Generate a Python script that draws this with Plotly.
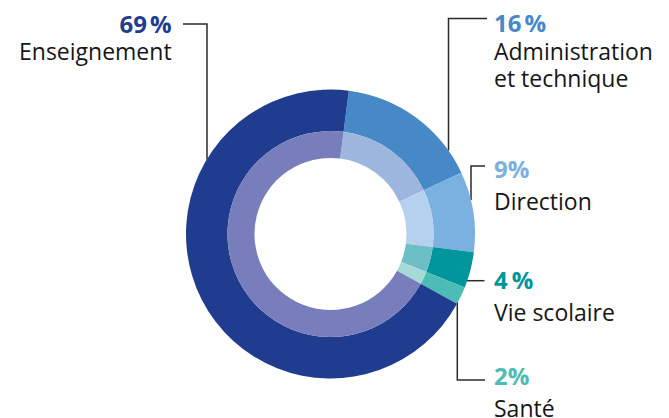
import plotly.graph_objects as go

W, H = 669, 418

categories = ["Administration et technique", "Direction", "Vie scolaire", "Santé", "Enseignement"]
values = [16, 9, 4, 2, 69]
pct_labels = ["16\u202f%", "9%", "4\u2009%", "2%", "69\u202f%"]
label_lines = [["Administration", "et technique"], ["Direction"], ["Vie scolaire"], ["Santé"], ["Enseignement"]]
outer_colors = ["#4788c7", "#7bb1e0", "#00969b", "#4ebcb6", "#1f3c8f"]
inner_colors = ["#9cb6de", "#b5d1ef", "#6cbfc5", "#a6dad6", "#787ebb"]

def px(x):
    return x / W

def py(y):
    return 1 - y / H

cx, cy = 330.5, 234.0
r_out, r_mid, r_in = 144.5, 103.0, 76.0

fig = go.Figure()
fig.add_trace(go.Pie(
    labels=categories, values=values, sort=False, direction="clockwise",
    rotation=7.3, hole=r_mid / r_out, marker=dict(colors=outer_colors, line=dict(width=0)),
    textinfo="none", hoverinfo="label+percent", showlegend=False,
    domain=dict(x=[px(cx - r_out), px(cx + r_out)], y=[py(cy + r_out), py(cy - r_out)]),
))
fig.add_trace(go.Pie(
    labels=categories, values=values, sort=False, direction="clockwise",
    rotation=7.3, hole=r_in / r_mid, marker=dict(colors=inner_colors, line=dict(width=0)),
    textinfo="none", hoverinfo="label+percent", showlegend=False,
    domain=dict(x=[px(cx - r_mid), px(cx + r_mid)], y=[py(cy + r_mid), py(cy - r_mid)]),
))

FONT = "Open Sans"
label_color = "#161616"
LS = 1.3

# (first line cap-middle y, line spacing px, x, anchor)
pos = {
    "Administration et technique": (22.5, 27.5, 492.5, "left"),
    "Direction": (168.3, 31.8, 492.5, "left"),
    "Vie scolaire": (279.2, 32.4, 492.5, "left"),
    "Santé": (375.3, 32.2, 492.5, "left"),
    "Enseignement": (23.5, 27.0, 173, "right"),
}

ann = []
for cat, pct, lines, col in zip(categories, pct_labels, label_lines, outer_colors):
    y0, sp, x, anc = pos[cat]
    base = sp / LS
    parts = [f"<span style='font-size:24px;color:{col}'><b>{pct}</b></span>"]
    parts += [f"<span style='font-size:23px'>{ln}</span>" for ln in lines]
    n = len(parts)
    ymid = y0 + sp * (n - 1) / 2
    ann.append(dict(x=px(x), y=py(ymid), xref="paper", yref="paper", xanchor=anc, yanchor="middle",
                    text="<br>".join(parts), showarrow=False, align=anc, borderpad=0,
                    font=dict(family=FONT, size=base, color=label_color)))

leaders = [
    [(183, 24), (207, 24), (207, 159.5)],
    [(487, 18.5), (448.5, 18.5), (448.5, 150.6)],
    [(485, 166), (471, 166), (471, 200)],
    [(484.5, 280.7), (466.5, 280.7)],
    [(485, 380), (457.3, 380), (457.3, 300)],
]
shapes = []
for pts in leaders:
    path = "M " + " L ".join(f"{px(x)},{py(y)}" for x, y in pts)
    shapes.append(dict(type="path", path=path, xref="paper", yref="paper",
                       line=dict(color="#2b2b2b", width=1.5), layer="below"))

fig.update_layout(
    width=W, height=H, margin=dict(l=0, r=0, t=0, b=0),
    paper_bgcolor="white", plot_bgcolor="white",
    annotations=ann, shapes=shapes,
)
fig.write_html("out.html", config={"displayModeBar": False},
               post_script="document.body.style.margin='0';")
